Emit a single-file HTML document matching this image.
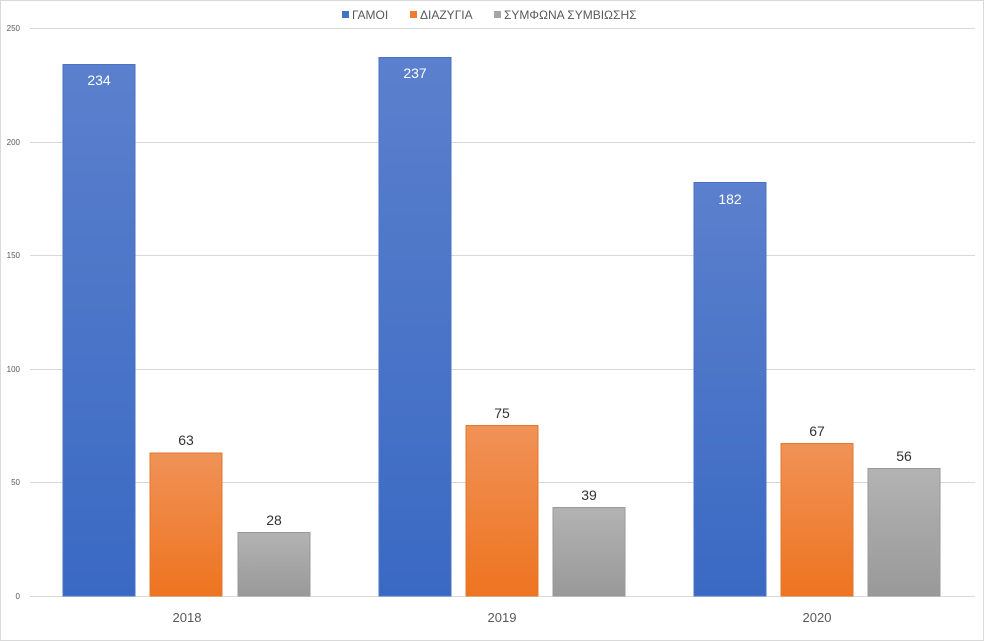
<!DOCTYPE html>
<html><head><meta charset="utf-8"><style>
html,body{margin:0;padding:0;background:#fff}
svg{display:block}
text{font-family:"Liberation Sans","DejaVu Sans",sans-serif}
</style></head><body>
<svg width="984" height="641" viewBox="0 0 984 641" xmlns="http://www.w3.org/2000/svg">
<defs>
<linearGradient id="gb" x1="0" y1="0" x2="0" y2="1"><stop offset="0" stop-color="#5b80cd"/><stop offset="1" stop-color="#3a69c3"/></linearGradient>
<linearGradient id="go" x1="0" y1="0" x2="0" y2="1"><stop offset="0" stop-color="#f09257"/><stop offset="1" stop-color="#ee7420"/></linearGradient>
<linearGradient id="gg" x1="0" y1="0" x2="0" y2="1"><stop offset="0" stop-color="#b3b3b3"/><stop offset="1" stop-color="#999"/></linearGradient>
</defs>
<rect x="0.5" y="0.5" width="983" height="640" fill="#fff" stroke="#d9d9d9"/>
<g stroke="#d9d9d9" stroke-width="1">
<line x1="30" x2="975" y1="28.5" y2="28.5"/>
<line x1="30" x2="975" y1="142.5" y2="142.5"/>
<line x1="30" x2="975" y1="255.5" y2="255.5"/>
<line x1="30" x2="975" y1="369.5" y2="369.5"/>
<line x1="30" x2="975" y1="482.5" y2="482.5"/>
<line x1="30" x2="975" y1="596.5" y2="596.5"/>
</g>
<g font-size="8" fill="#595959" text-anchor="end">
<text x="20" y="31">250</text><text x="20" y="145">200</text><text x="20" y="258">150</text>
<text x="20" y="372">100</text><text x="20" y="485">50</text><text x="20" y="599">0</text>
</g>
<g stroke-width="1">
<rect x="63" y="64.5" width="72" height="531.5" fill="url(#gb)" stroke="#4a72c4"/>
<rect x="150" y="453" width="72" height="143" fill="url(#go)" stroke="#e07830"/>
<rect x="238" y="532.5" width="72" height="63.5" fill="url(#gg)" stroke="#999"/>
<rect x="379" y="57.5" width="72" height="538.5" fill="url(#gb)" stroke="#4a72c4"/>
<rect x="466" y="425.5" width="72" height="170.5" fill="url(#go)" stroke="#e07830"/>
<rect x="553" y="507.5" width="72" height="88.5" fill="url(#gg)" stroke="#999"/>
<rect x="694" y="182.5" width="72" height="413.5" fill="url(#gb)" stroke="#4a72c4"/>
<rect x="781" y="443.5" width="72" height="152.5" fill="url(#go)" stroke="#e07830"/>
<rect x="868" y="468.5" width="72" height="127.5" fill="url(#gg)" stroke="#999"/>
</g>
<g font-size="14" text-anchor="middle">
<text x="99" y="85" fill="#fff">234</text>
<text x="186" y="445" fill="#333">63</text>
<text x="274" y="525" fill="#333">28</text>
<text x="415" y="78" fill="#fff">237</text>
<text x="502" y="418" fill="#333">75</text>
<text x="589" y="500" fill="#333">39</text>
<text x="730" y="204" fill="#fff">182</text>
<text x="817" y="436" fill="#333">67</text>
<text x="904" y="461" fill="#333">56</text>
</g>
<g font-size="13" fill="#595959" text-anchor="middle">
<text x="187" y="622">2018</text><text x="502" y="622">2019</text><text x="817" y="622">2020</text>
</g>
<g font-size="12" fill="#595959">
<rect x="342" y="11" width="7" height="7" fill="#4472c4"/><text x="352" y="19">ΓΑΜΟΙ</text>
<rect x="410" y="11" width="7" height="7" fill="#ed7d31"/><text x="420" y="19">ΔΙΑΖΥΓΙΑ</text>
<rect x="494" y="11" width="7" height="7" fill="#a5a5a5"/><text x="504" y="19">ΣΥΜΦΩΝΑ ΣΥΜΒΙΩΣΗΣ</text>
</g>
</svg>
</body></html>
